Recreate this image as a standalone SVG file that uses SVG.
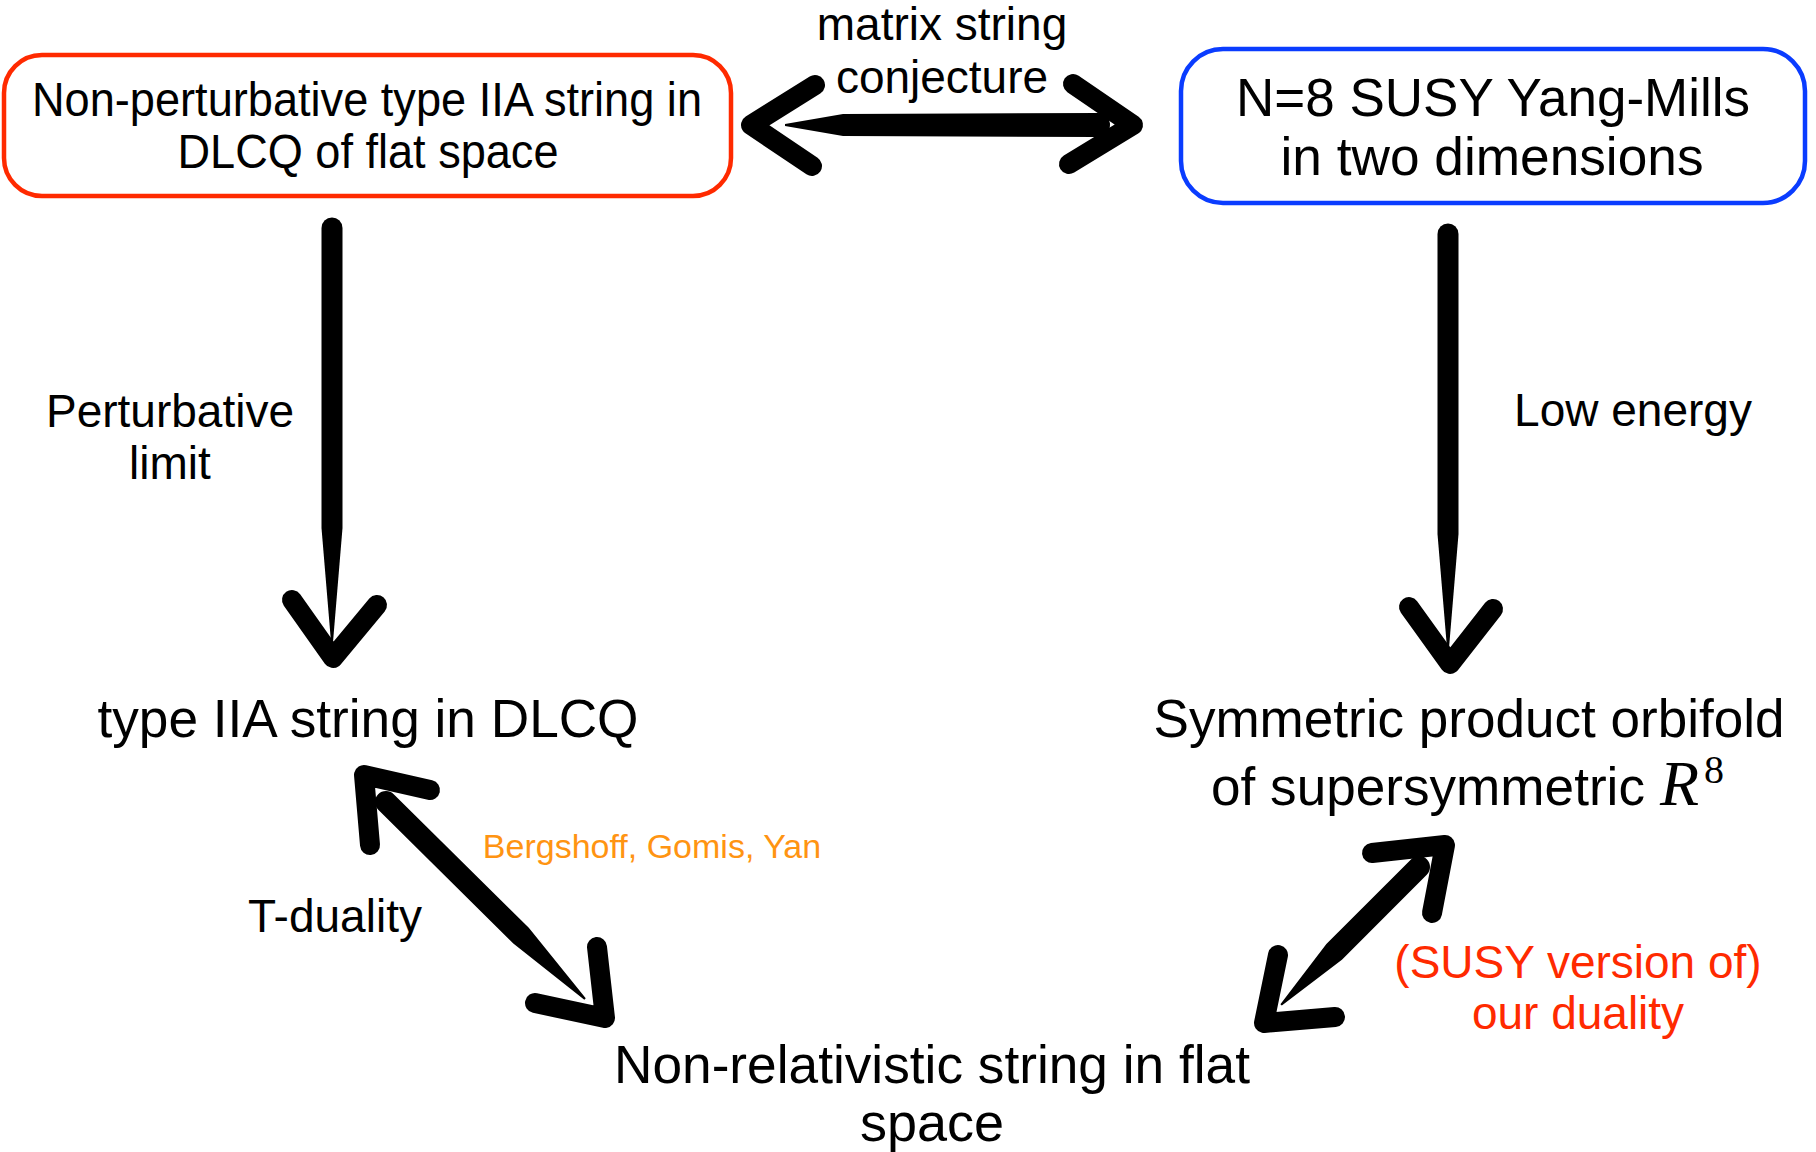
<svg xmlns="http://www.w3.org/2000/svg" width="1816" height="1152" viewBox="0 0 1816 1152">
<style>
  .t { font-family: "Liberation Sans", Arial, sans-serif; fill: #000; text-anchor: middle; }
  .big { font-size: 54px; }
  .mid { font-size: 46px; }
  .box { fill: #fff; stroke-width: 4.5; }
  .head { fill: none; stroke: #000; stroke-width: 20; stroke-linecap: round; stroke-linejoin: round; }
  .shaft { fill: #000; }
</style>
<rect width="1816" height="1152" fill="#fff"/>

<g id="connectors">
  <!-- top double arrow -->
  <path class="shaft" d="M0,-12 L255,-11 L313,-1 L313,1 L255,11 L0,12 A12,12 0 0 1 0,-12 Z" transform="translate(1098,125) rotate(180)"/>
  <polyline class="head" points="815,85 751,125 812,166"/>
  <polyline class="head" points="1073,84 1133,125 1069,164"/>
  <!-- left vertical -->
  <path class="shaft" d="M0,-10.5 L300,-10.5 L414,-1 L414,1 L300,10.5 L0,10.5 A10.5,10.5 0 0 1 0,-10.5 Z" transform="translate(332,228) rotate(90)"/>
  <polyline class="head" points="292,600 333,658 377,605"/>
  <!-- right vertical -->
  <path class="shaft" d="M0,-10.5 L300,-10.5 L414,-1 L414,1 L300,10.5 L0,10.5 A10.5,10.5 0 0 1 0,-10.5 Z" transform="translate(1448,234) rotate(90)"/>
  <polyline class="head" points="1409,607 1450,664 1493,609"/>
  <!-- left diagonal (T-duality) -->
  <path class="shaft" d="M0,-11 L190,-11 L280,-1 L280,1 L190,11 L0,11 A11,11 0 0 1 0,-11 Z" transform="translate(386,802) rotate(44.7)"/>
  <polyline class="head" points="430,790 364,775 370,845"/>
  <polyline class="head" points="597,947 605,1018 535,1003"/>
  <!-- right diagonal -->
  <path class="shaft" d="M0,-11 L120,-11 L195,-1 L195,1 L120,11 L0,11 A11,11 0 0 1 0,-11 Z" transform="translate(1419,867) rotate(135)"/>
  <polyline class="head" points="1372,853 1445,845 1432,913"/>
  <polyline class="head" points="1278,955 1264,1023 1335,1017"/>
</g>

<g id="node-nonpert">
  <rect class="box" x="4" y="55" width="727" height="141" rx="38" stroke="#ff2a00"/>
  <text class="t" x="367" y="116" font-size="48" textLength="670" lengthAdjust="spacingAndGlyphs">Non-perturbative type IIA string in</text>
  <text class="t" x="368" y="168" font-size="48" textLength="381" lengthAdjust="spacingAndGlyphs">DLCQ of flat space</text>
</g>

<g id="node-sym">
  <rect class="box" x="1181" y="49" width="624" height="154" rx="42" stroke="#0a3cff"/>
  <text class="t" x="1493" y="116" font-size="54" textLength="514" lengthAdjust="spacingAndGlyphs">N=8 SUSY Yang-Mills</text>
  <text class="t" x="1492" y="175" font-size="54" textLength="423" lengthAdjust="spacingAndGlyphs">in two dimensions</text>
</g>

<g id="label-matrix">
  <text class="t mid" x="942" y="40">matrix string</text>
  <text class="t mid" x="942" y="93">conjecture</text>
</g>

<g id="label-pert">
  <text class="t mid" x="170" y="427">Perturbative</text>
  <text class="t mid" x="170" y="479">limit</text>
</g>

<g id="label-low">
  <text class="t mid" x="1633" y="426">Low energy</text>
</g>

<g id="node-iia">
  <text class="t big" x="368" y="737" textLength="541" lengthAdjust="spacingAndGlyphs">type IIA string in DLCQ</text>
</g>

<g id="node-orbifold">
  <text class="t big" x="1469" y="737" textLength="631" lengthAdjust="spacingAndGlyphs">Symmetric product orbifold</text>
  <text style="font-family:'Liberation Sans',Arial,sans-serif;font-size:54px" x="1211" y="805" textLength="434" lengthAdjust="spacingAndGlyphs">of supersymmetric</text>
  <text style="font-family:'Liberation Serif','Times New Roman',serif;font-size:64px;font-style:italic" x="1660" y="805">R</text>
  <text style="font-family:'Liberation Serif','Times New Roman',serif;font-size:40px" x="1704" y="783">8</text>
</g>

<g id="label-tduality">
  <text class="t mid" x="335" y="932">T-duality</text>
</g>

<g id="label-bgy">
  <text class="t" style="fill:#ff9412;font-size:34px" x="652" y="858">Bergshoff, Gomis, Yan</text>
</g>

<g id="label-ourduality">
  <text class="t mid" style="fill:#ff2a00" x="1578" y="978">(SUSY version of)</text>
  <text class="t mid" style="fill:#ff2a00" x="1578" y="1029">our duality</text>
</g>

<g id="node-nonrel">
  <text class="t big" x="932" y="1083" textLength="636" lengthAdjust="spacingAndGlyphs">Non-relativistic string in flat</text>
  <text class="t big" x="932" y="1141">space</text>
</g>
</svg>
